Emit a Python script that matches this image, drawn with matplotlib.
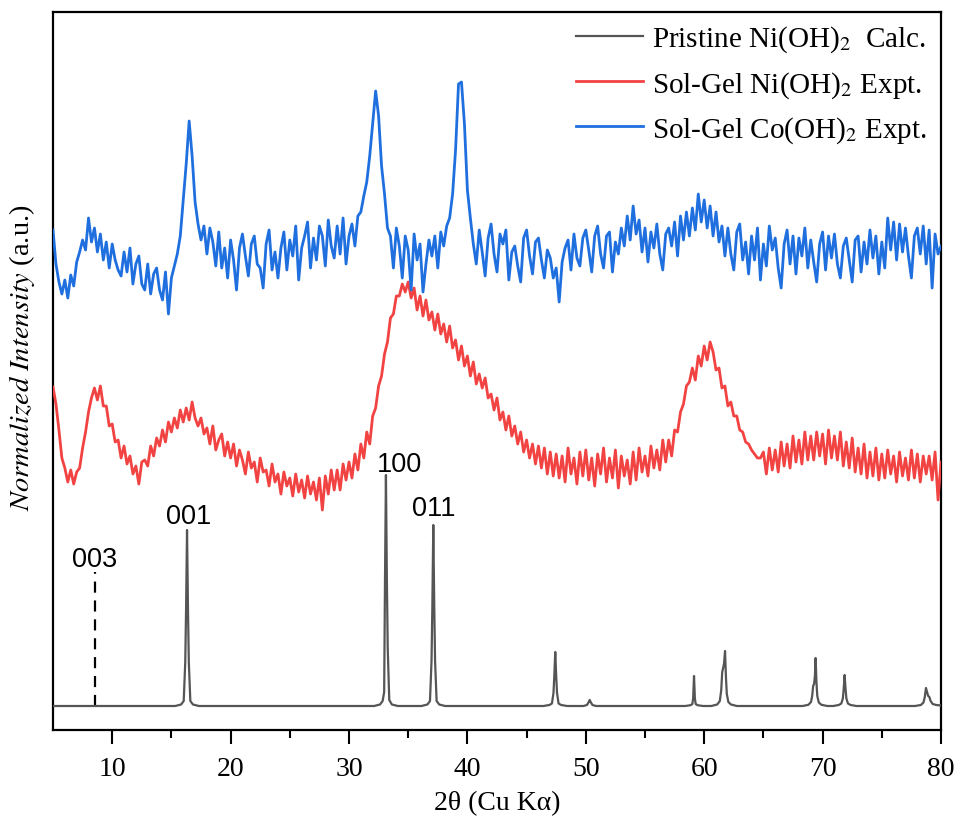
import numpy as np
import matplotlib
matplotlib.use("Agg")
import matplotlib.pyplot as plt

plt.rcParams['font.family'] = ['Liberation Serif', 'DejaVu Serif']
plt.rcParams['mathtext.fontset'] = 'stix'

# ---------------- data ----------------
# 2theta range of experimental scans (0.25 deg step)
x_start, x_end = 5.0, 80.0

# Sol-Gel Co(OH)2 Expt. (normalized intensity, arbitrary units, offset)
co_expt = [
    500, 466, 448, 436,  450, 432, 455, 444,  468, 478, 490, 480,   # 5-7
    512, 488, 502, 478,  496, 470, 488, 462,  486, 470, 460, 454,   # 8-10
    478, 458, 482, 446,  466, 474, 446, 440,  466, 436, 456, 462,   # 11-13
    440, 430, 458, 416,  452, 464, 476, 494,  530, 566, 609, 574,   # 14-16
    528, 506, 490, 504,  476, 502, 488, 464,  498, 462, 482, 452,   # 17-19
    490, 470, 440, 482,  496, 474, 454, 486,  494, 466, 462, 442,   # 20-22
    486, 500, 460, 478,  452, 482, 498, 460,  490, 474, 504, 450,   # 23-25
    482, 494, 508, 462,  492, 470, 504, 494,  464, 510, 484, 472,   # 26-28
    504, 476, 512, 466,  494, 506, 484, 514,  518, 534, 548, 574,   # 29-31
    606, 639, 614, 564,  536, 502, 494, 462,  502, 484, 452, 494,   # 32-34
    480, 440, 496, 470,  486, 438, 466, 490,  474, 494, 462, 498,   # 35-37
    484, 504, 512, 536,  580, 646, 648, 606,  540, 512, 486, 466,   # 38-40
    500, 478, 454, 492,  506, 476, 458, 496,  486, 500, 450, 478,   # 41-43
    484, 464, 448, 492,  500, 474, 456, 488,  492, 470, 452, 480,   # 44-46
    472, 452, 462, 428,  468, 482, 490, 460,  496, 472, 464, 492,   # 47-49
    500, 480, 458, 494,  504, 476, 462, 494,  498, 458, 488, 476,   # 50-52
    502, 484, 514, 490,  524, 496, 510, 478,  502, 468, 498, 482,   # 53-55
    506, 476, 460, 496,  502, 484, 508, 474,  514, 490, 518, 494,   # 56-58
    522, 500, 536, 508,  530, 502, 524, 494,  518, 488, 504, 474,   # 59-61
    502, 476, 460, 498,  506, 470, 488, 456,  494, 470, 502, 450,   # 62-64
    486, 464, 504, 480,  492, 462, 442, 486,  500, 466, 494, 456,   # 65-67
    492, 474, 502, 462,  490, 468, 448, 486,  498, 460, 494, 472,   # 68-70
    496, 466, 452, 484,  492, 470, 448, 490,  494, 458, 488, 466,   # 71-73
    500, 472, 494, 456,  488, 462, 512, 480,  508, 470, 506, 478,   # 74-76
    502, 474, 452, 494,  502, 476, 504, 466,  500, 442, 496, 476,   # 77-79
    484,                                                            # 80
]

# Sol-Gel Ni(OH)2 Expt.
ni_expt = [
    343, 326, 300, 272,  262, 248, 260, 246,  258, 262, 282, 298,   # 5-7
    318, 332, 342, 330,  344, 324, 324, 304,  306, 288, 290, 272,   # 8-10
    284, 266, 274, 256,  264, 246, 268, 270,  264, 284, 274, 292,   # 11-13
    284, 300, 288, 308,  298, 312, 302, 320,  308, 322, 310, 328,   # 14-16
    312, 304, 312, 296,  302, 286, 304, 280,  290, 296, 274, 288,   # 17-19
    272, 286, 264, 280,  270, 256, 278, 262,  268, 248, 272, 258,   # 20-22
    260, 244, 266, 248,  256, 236, 258, 244,  252, 234, 256, 238,   # 23-25
    250, 232, 254, 236,  248, 230, 252, 220,  254, 236, 260, 240,   # 26-28
    260, 240, 266, 250,  268, 252, 276, 260,  286, 272, 298, 286,   # 29-31
    314, 322, 344, 354,  376, 388, 412, 416,  434, 434, 446, 438,   # 32-34
    448, 432, 442, 420,  434, 414, 430, 410,  418, 400, 416, 396,   # 35-37
    406, 388, 404, 382,  390, 370, 384, 364,  374, 354, 368, 346,   # 38-40
    356, 342, 352, 332,  336, 320, 332, 310,  318, 300, 314, 294,   # 41-43
    304, 286, 298, 278,  290, 272, 286, 266,  284, 262, 282, 256,   # 44-46
    278, 254, 276, 252,  274, 248, 282, 256,  272, 246, 278, 254,   # 47-49
    280, 250, 272, 244,  276, 256, 282, 248,  272, 252, 280, 242,   # 50-52
    274, 254, 270, 246,  278, 250, 282, 258,  274, 254, 284, 262,   # 53-55
    280, 260, 290, 268,  290, 274, 300, 298,  318, 326, 344, 348,   # 56-58
    362, 350, 374, 364,  384, 370, 388, 378,  360, 362, 342, 344,   # 59-61
    324, 328, 314, 314,  300, 298, 288, 286,  280, 276, 272, 272,   # 62-64
    278, 256, 282, 260,  280, 258, 288, 264,  286, 262, 294, 268,   # 65-67
    290, 266, 298, 270,  294, 270, 298, 274,  296, 266, 300, 272,   # 68-70
    294, 270, 298, 264,  288, 262, 292, 258,  282, 256, 286, 252,   # 71-73
    278, 254, 282, 250,  276, 252, 280, 256,  274, 248, 278, 254,   # 74-76
    272, 250, 280, 252,  276, 248, 274, 256,  274, 250, 278, 230,   # 77-79
    268,                                                            # 80
]

# Pristine Ni(OH)2 Calc. (profile vertices)
calc_x = [5.0,
          15.32, 15.82, 16.04, 16.17, 16.24, 16.32, 16.40, 16.47, 16.60, 16.82, 17.32,
          32.12, 32.62, 32.84, 32.97, 33.04, 33.12, 33.20, 33.27, 33.40, 33.62, 34.12,
          36.12, 36.62, 36.84, 36.97, 37.04, 37.12, 37.20, 37.27, 37.40, 37.62, 38.12,
          46.42, 46.92, 47.14, 47.27, 47.34, 47.42, 47.50, 47.57, 47.70, 47.92, 48.42,
          49.80, 50.10, 50.25, 50.33, 50.41, 50.56, 50.86,
          58.40, 58.84, 59.00, 59.07, 59.10, 59.14, 59.18, 59.21, 59.28, 59.44, 59.90,
          60.60, 61.10, 61.32, 61.44, 61.52, 61.60, 61.68, 61.76, 61.84, 61.91, 62.04, 62.26, 62.76,
          68.30, 68.80, 69.02, 69.12, 69.20, 69.28, 69.35, 69.41, 69.48, 69.55, 69.68, 69.90, 70.40,
          70.90, 71.36, 71.58, 71.71, 71.78, 71.86, 71.94, 72.01, 72.14, 72.36, 72.86,
          77.80, 78.30, 78.52, 78.63, 78.73, 78.82, 78.92, 79.02, 79.12, 79.30, 79.60, 80.00]
calc_y = [24,
          24, 25.5, 29, 68, 121, 200, 121, 68, 29, 25.5, 24,
          24, 25.5, 29, 38, 150, 255, 150, 82, 30, 25.5, 24,
          24, 25.5, 29, 69, 124, 205, 124, 69, 29, 25.5, 24,
          24, 25, 26.5, 37, 54, 78, 54, 37, 26.5, 25, 24,
          24, 25, 28, 30, 28, 25, 24,
          24, 24.8, 26, 32, 42, 54, 42, 32, 26, 24.8, 24,
          24, 25.5, 29, 40, 58, 62, 67, 79, 52, 36, 28, 25.5, 24,
          24, 25.2, 28, 34, 44, 46, 54, 72, 48, 34, 27.5, 25.2, 24,
          24, 25, 26.5, 31.5, 41, 55, 41, 31.5, 26.5, 25, 24,
          24, 25, 27.5, 33, 42, 38, 34, 33, 29, 26, 25, 24.5]

# Miller index labels
hkl_labels = ['003', '001', '100', '011']
hkl_pos = [8.55, 16.45, 34.3, 37.2]
hkl_text_y = [164, 207, 259, 215]
ref_003_x = 8.55
ref_003_y = [24, 158]

legend_labels = [r'Pristine Ni(OH)$_2$  Calc.',
                 r'Sol-Gel Ni(OH)$_2$ Expt.',
                 r'Sol-Gel Co(OH)$_2$ Expt.']

# ---------------- plot ----------------
fig = plt.figure(figsize=(9.61, 8.20), dpi=100)
ax = fig.add_axes([53/961, 1-731/820, 888/961, 718/820])

x_co = np.linspace(x_start, x_end, len(co_expt))
x_ni = np.linspace(x_start, x_end, len(ni_expt))

ax.plot(calc_x, calc_y, color='#555555', lw=1.6, label=legend_labels[0], zorder=3)
ax.plot(x_ni, ni_expt, color='#F24343', lw=2.0, label=legend_labels[1], zorder=4)
ax.plot(x_co, co_expt, color='#1F6FDF', lw=2.0, label=legend_labels[2], zorder=5)

ax.plot([ref_003_x, ref_003_x], ref_003_y, color='black', lw=1.6,
        dashes=(5, 3.5), zorder=2)

for lab, xp, yp in zip(hkl_labels, hkl_pos, hkl_text_y):
    ax.text(xp, yp, lab, ha='center', va='baseline', fontsize=19.5,
            family=['Liberation Sans', 'DejaVu Sans'])

ax.set_xlim(5, 80)
ax.set_ylim(0, 718)
ax.set_xticks([10, 20, 30, 40, 50, 60, 70, 80])
ax.set_xticks([15, 25, 35, 45, 55, 65, 75], minor=True)
ax.set_yticks([])
ax.tick_params(axis='x', which='major', length=10, width=1.5, labelsize=20, pad=9)
ax.tick_params(axis='x', which='minor', length=6, width=1.5)
for s in ax.spines.values():
    s.set_linewidth(1.6)

ax.set_xlabel(r'2θ (Cu Kα)', fontsize=20, labelpad=6)
ax.set_ylabel(r'$\it{Normalized\ Intensity}$ (a.u.)', fontsize=20.5)
ax.yaxis.set_label_coords(-0.018, 0.52)

leg = ax.legend(loc='upper right', frameon=False, fontsize=21,
                handlelength=2.3, handletextpad=0.3, labelspacing=0.5,
                borderaxespad=0.0, bbox_to_anchor=(0.997, 1.0))

fig.savefig('out.png', dpi=100)
